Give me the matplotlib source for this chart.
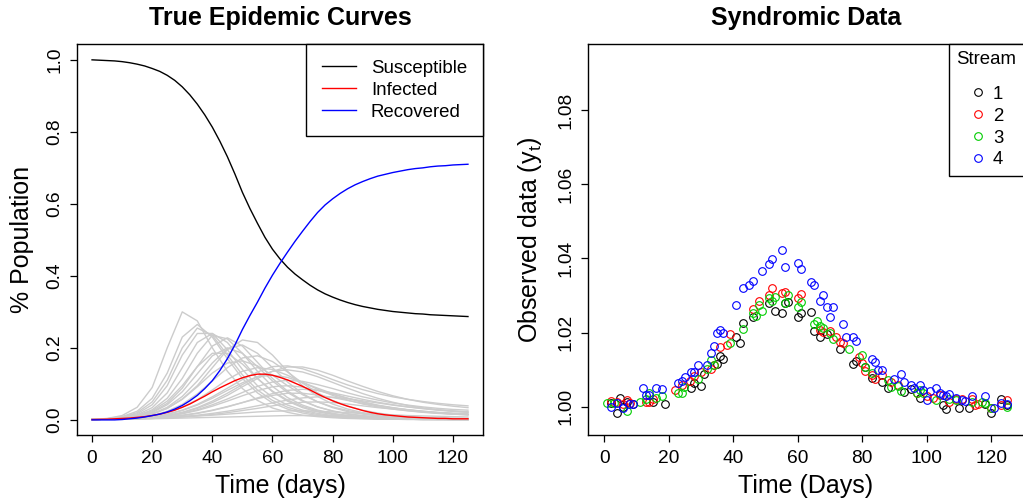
import matplotlib
matplotlib.use("Agg")
import matplotlib.pyplot as plt
import numpy as np

plt.rcParams['font.family'] = ['Liberation Sans', 'DejaVu Sans']
plt.rcParams['mathtext.fontset'] = 'custom'
plt.rcParams['mathtext.rm'] = 'Liberation Sans'

# ---- left panel: SIR curves (read every 2.5 days) ----
days_fine = [0, 2.5, 5, 7.5, 10, 12.5, 15, 17.5, 20, 22.5, 25, 27.5, 30, 32.5, 35, 37.5, 40, 42.5, 45, 47.5,
             50, 52.5, 55, 57.5, 60, 62.5, 65, 67.5, 70, 72.5, 75, 77.5, 80, 82.5, 85, 87.5, 90, 92.5, 95, 97.5,
             100, 102.5, 105, 107.5, 110, 112.5, 115, 117.5, 120, 122.5, 125]

susceptible = [1.0, 0.999, 0.998, 0.997, 0.995, 0.992, 0.988, 0.983, 0.976, 0.968, 0.957, 0.943, 0.925, 0.903,
               0.877, 0.847, 0.813, 0.774, 0.731, 0.683, 0.632, 0.587, 0.546, 0.507, 0.474, 0.447, 0.424, 0.405,
               0.389, 0.374, 0.361, 0.350, 0.341, 0.333, 0.326, 0.320, 0.315, 0.311, 0.307, 0.304, 0.301, 0.299,
               0.297, 0.295, 0.294, 0.292, 0.291, 0.290, 0.289, 0.288, 0.287]
infected = [0.001, 0.0015, 0.002, 0.003, 0.004, 0.005, 0.007, 0.009, 0.012, 0.016, 0.021, 0.027, 0.035, 0.044,
            0.055, 0.066, 0.078, 0.089, 0.099, 0.109, 0.117, 0.123, 0.127, 0.127, 0.124, 0.118, 0.111, 0.102,
            0.093, 0.083, 0.072, 0.062, 0.053, 0.045, 0.038, 0.032, 0.026, 0.021, 0.017, 0.014, 0.012, 0.010,
            0.008, 0.007, 0.006, 0.005, 0.004, 0.004, 0.003, 0.003, 0.003]
recovered = [0.0, 0.0, 0.0, 0.0, 0.001, 0.003, 0.005, 0.008, 0.012, 0.016, 0.022, 0.030, 0.040, 0.053, 0.068,
             0.087, 0.109, 0.137, 0.170, 0.208, 0.251, 0.290, 0.327, 0.366, 0.402, 0.435, 0.466, 0.496, 0.524,
             0.551, 0.576, 0.597, 0.614, 0.629, 0.642, 0.653, 0.662, 0.670, 0.677, 0.682, 0.687, 0.691, 0.695,
             0.698, 0.700, 0.703, 0.705, 0.706, 0.708, 0.709, 0.710]

# simulated infected curves (grey), read every 5 days
days = [0, 5, 10, 15, 20, 25, 30, 35, 40, 45, 50, 55, 60, 65, 70, 75, 80, 85, 90, 95, 100, 105, 110, 115, 120, 125]
sim_curves = [
    [0.001, 0.004, 0.012, 0.035, 0.09, 0.20, 0.30, 0.275, 0.20, 0.135, 0.087, 0.054, 0.033, 0.021, 0.013, 0.009, 0.006, 0.004, 0.003, 0.002, 0.002, 0.001, 0.001, 0.001, 0.001, 0.001],
    [0.001, 0.003, 0.009, 0.024, 0.06, 0.13, 0.23, 0.265, 0.23, 0.17, 0.115, 0.075, 0.047, 0.03, 0.019, 0.012, 0.008, 0.005, 0.004, 0.003, 0.002, 0.002, 0.001, 0.001, 0.001, 0.001],
    [0.001, 0.003, 0.008, 0.02, 0.05, 0.11, 0.20, 0.255, 0.235, 0.18, 0.125, 0.083, 0.054, 0.035, 0.023, 0.015, 0.01, 0.007, 0.005, 0.003, 0.002, 0.002, 0.001, 0.001, 0.001, 0.001],
    [0.001, 0.003, 0.007, 0.017, 0.042, 0.095, 0.18, 0.24, 0.24, 0.195, 0.14, 0.095, 0.063, 0.041, 0.027, 0.018, 0.012, 0.008, 0.005, 0.004, 0.003, 0.002, 0.001, 0.001, 0.001, 0.001],
    [0.001, 0.002, 0.006, 0.014, 0.034, 0.075, 0.145, 0.215, 0.24, 0.215, 0.165, 0.115, 0.078, 0.052, 0.034, 0.022, 0.015, 0.01, 0.007, 0.005, 0.003, 0.002, 0.002, 0.001, 0.001, 0.001],
    [0.001, 0.002, 0.005, 0.012, 0.028, 0.06, 0.115, 0.185, 0.235, 0.225, 0.185, 0.135, 0.093, 0.062, 0.041, 0.027, 0.018, 0.012, 0.008, 0.006, 0.004, 0.003, 0.002, 0.002, 0.001, 0.001],
    [0.001, 0.002, 0.004, 0.01, 0.022, 0.046, 0.088, 0.148, 0.205, 0.228, 0.205, 0.16, 0.115, 0.08, 0.054, 0.036, 0.024, 0.016, 0.011, 0.008, 0.005, 0.004, 0.003, 0.002, 0.002, 0.001],
    [0.001, 0.002, 0.004, 0.008, 0.016, 0.032, 0.058, 0.095, 0.145, 0.195, 0.222, 0.215, 0.18, 0.135, 0.095, 0.065, 0.044, 0.03, 0.02, 0.014, 0.01, 0.007, 0.005, 0.004, 0.003, 0.002],
    [0.001, 0.002, 0.004, 0.008, 0.017, 0.035, 0.065, 0.108, 0.158, 0.198, 0.208, 0.185, 0.145, 0.105, 0.073, 0.05, 0.034, 0.023, 0.016, 0.011, 0.008, 0.006, 0.004, 0.003, 0.002, 0.002],
    [0.001, 0.002, 0.004, 0.009, 0.02, 0.042, 0.078, 0.128, 0.178, 0.2, 0.185, 0.148, 0.108, 0.076, 0.052, 0.036, 0.025, 0.017, 0.012, 0.008, 0.006, 0.004, 0.003, 0.002, 0.002, 0.001],
    [0.001, 0.002, 0.005, 0.011, 0.025, 0.052, 0.095, 0.148, 0.185, 0.185, 0.155, 0.115, 0.08, 0.055, 0.037, 0.025, 0.017, 0.012, 0.008, 0.006, 0.004, 0.003, 0.002, 0.002, 0.001, 0.001],
    [0.001, 0.002, 0.003, 0.006, 0.012, 0.024, 0.043, 0.072, 0.108, 0.145, 0.172, 0.178, 0.162, 0.133, 0.102, 0.075, 0.054, 0.038, 0.027, 0.019, 0.013, 0.009, 0.007, 0.005, 0.004, 0.003],
    [0.001, 0.002, 0.004, 0.008, 0.016, 0.032, 0.057, 0.092, 0.13, 0.158, 0.164, 0.15, 0.124, 0.095, 0.07, 0.05, 0.036, 0.026, 0.018, 0.013, 0.009, 0.007, 0.005, 0.004, 0.003, 0.002],
    [0.001, 0.002, 0.003, 0.005, 0.009, 0.016, 0.027, 0.043, 0.064, 0.088, 0.112, 0.133, 0.148, 0.15, 0.142, 0.128, 0.112, 0.097, 0.084, 0.073, 0.064, 0.057, 0.051, 0.046, 0.042, 0.039],
    [0.001, 0.002, 0.003, 0.004, 0.007, 0.012, 0.02, 0.032, 0.048, 0.068, 0.092, 0.115, 0.135, 0.147, 0.147, 0.138, 0.124, 0.108, 0.093, 0.079, 0.067, 0.057, 0.049, 0.043, 0.038, 0.034],
    [0.001, 0.002, 0.003, 0.006, 0.011, 0.02, 0.035, 0.056, 0.083, 0.112, 0.135, 0.145, 0.14, 0.124, 0.104, 0.085, 0.068, 0.055, 0.044, 0.036, 0.03, 0.025, 0.021, 0.018, 0.016, 0.014],
    [0.001, 0.002, 0.003, 0.004, 0.007, 0.012, 0.021, 0.034, 0.052, 0.074, 0.098, 0.12, 0.135, 0.139, 0.133, 0.12, 0.104, 0.088, 0.073, 0.06, 0.049, 0.04, 0.033, 0.028, 0.024, 0.021],
    [0.001, 0.002, 0.003, 0.005, 0.009, 0.015, 0.026, 0.041, 0.06, 0.082, 0.103, 0.12, 0.124, 0.118, 0.104, 0.088, 0.073, 0.06, 0.049, 0.04, 0.033, 0.028, 0.024, 0.021, 0.019, 0.017],
    [0.001, 0.002, 0.003, 0.004, 0.007, 0.011, 0.018, 0.028, 0.042, 0.058, 0.076, 0.093, 0.105, 0.11, 0.107, 0.098, 0.087, 0.075, 0.064, 0.055, 0.047, 0.041, 0.036, 0.032, 0.029, 0.027],
    [0.001, 0.002, 0.003, 0.004, 0.007, 0.011, 0.017, 0.026, 0.038, 0.052, 0.067, 0.081, 0.092, 0.095, 0.091, 0.082, 0.071, 0.06, 0.05, 0.041, 0.034, 0.028, 0.023, 0.019, 0.016, 0.014],
    [0.001, 0.002, 0.002, 0.003, 0.005, 0.008, 0.012, 0.018, 0.026, 0.036, 0.048, 0.061, 0.073, 0.082, 0.085, 0.082, 0.075, 0.066, 0.057, 0.049, 0.042, 0.036, 0.031, 0.027, 0.024, 0.022],
    [0.001, 0.002, 0.003, 0.004, 0.006, 0.009, 0.013, 0.019, 0.027, 0.037, 0.048, 0.059, 0.068, 0.074, 0.074, 0.069, 0.062, 0.054, 0.046, 0.039, 0.033, 0.028, 0.024, 0.02, 0.017, 0.015],
    [0.001, 0.002, 0.002, 0.003, 0.004, 0.006, 0.009, 0.013, 0.018, 0.024, 0.031, 0.039, 0.047, 0.055, 0.061, 0.064, 0.063, 0.059, 0.053, 0.047, 0.041, 0.036, 0.032, 0.028, 0.025, 0.022],
    [0.001, 0.002, 0.002, 0.003, 0.004, 0.006, 0.008, 0.011, 0.015, 0.02, 0.026, 0.032, 0.039, 0.045, 0.049, 0.05, 0.048, 0.044, 0.039, 0.034, 0.03, 0.026, 0.022, 0.019, 0.017, 0.015],
    [0.001, 0.002, 0.003, 0.004, 0.005, 0.007, 0.009, 0.011, 0.013, 0.016, 0.019, 0.022, 0.024, 0.025, 0.025, 0.024, 0.022, 0.02, 0.018, 0.016, 0.014, 0.012, 0.011, 0.01, 0.009, 0.008],
    [0.001, 0.001, 0.002, 0.002, 0.003, 0.004, 0.005, 0.006, 0.007, 0.008, 0.009, 0.01, 0.011, 0.012, 0.012, 0.012, 0.011, 0.01, 0.009, 0.008, 0.007, 0.006, 0.006, 0.005, 0.005, 0.004],
]

# ---- right panel: syndromic data streams ----
s1_days = [2, 4, 5, 6, 7, 9, 15, 19, 27, 28, 30, 31, 35, 36, 37, 41, 42, 43, 46, 51, 53, 55, 56, 57, 60, 61,
           64, 65, 67, 69, 73, 77, 78, 81, 83, 86, 88, 93, 95, 98, 105, 106, 110, 113, 118, 120, 123, 125]
s1_vals = [1.0011, 0.9984, 1.0024, 1.0000, 1.0013, 1.0007, 1.0012, 1.0007, 1.0050, 1.0063, 1.0056, 1.0088,
           1.0115, 1.0137, 1.0128, 1.0189, 1.0173, 1.0227, 1.0241, 1.0281, 1.0259, 1.0252, 1.0279, 1.0283,
           1.0243, 1.0252, 1.0256, 1.0204, 1.0187, 1.0195, 1.0157, 1.0115, 1.0124, 1.0108, 1.0079, 1.0067,
           1.0052, 1.0040, 1.0047, 1.0024, 1.0006, 0.9993, 0.9998, 0.9996, 1.0007, 0.9984, 1.0020, 1.0004]

s2_days = [2, 4, 6, 7, 8, 13, 14, 15, 22, 24, 26.5, 28, 30, 33, 34, 36, 38, 39, 46, 48, 51, 52, 55, 56, 60, 61,
           67, 68, 70, 72, 73, 74, 79, 80, 81, 83, 84, 86, 89, 91, 97, 100, 102, 104, 107, 109, 111, 114, 115,
           116, 120, 123, 125]
s2_vals = [1.0016, 1.0012, 1.0007, 1.0018, 1.0011, 1.0013, 1.0012, 1.0020, 1.0045, 1.0058, 1.0069, 1.0083,
           1.0094, 1.0103, 1.0112, 1.0160, 1.0166, 1.0195, 1.0264, 1.0286, 1.0301, 1.0319, 1.0308, 1.0310,
           1.0294, 1.0303, 1.0207, 1.0202, 1.0204, 1.0189, 1.0175, 1.0173, 1.0135, 1.0117, 1.0097, 1.0085,
           1.0074, 1.0085, 1.0067, 1.0058, 1.0036, 1.0029, 1.0025, 1.0031, 1.0013, 1.0022, 1.0021, 1.0022,
           1.0004, 1.0007, 0.9996, 1.0004, 1.0018]

s3_days = [1, 3, 7, 11, 13, 14, 16, 18, 23, 24, 24.7, 29, 32, 33, 34, 39, 43, 46, 47, 48, 49, 51, 52, 53, 56,
           57, 60, 61, 65, 66, 67, 68, 70, 71, 76, 80, 81, 83, 88, 89, 91, 92, 97, 98, 99, 103, 107, 109, 114,
           117, 118, 120, 125]
s3_vals = [1.0009, 1.0009, 0.9989, 1.0013, 1.0022, 1.0038, 1.0025, 1.0029, 1.0036, 1.0038, 1.0054, 1.0076,
           1.0103, 1.0126, 1.0112, 1.0173, 1.0209, 1.0252, 1.0245, 1.0274, 1.0258, 1.0292, 1.0286, 1.0297,
           1.0281, 1.0301, 1.0268, 1.0283, 1.0223, 1.0232, 1.0218, 1.0213, 1.0200, 1.0182, 1.0156, 1.0139,
           1.0108, 1.0090, 1.0072, 1.0054, 1.0056, 1.0043, 1.0038, 1.0045, 1.0038, 1.0018, 1.0020, 1.0018,
           1.0013, 1.0013, 1.0009, 0.9998, 1.0000]

s4_days = [2, 4, 6, 7.6, 9, 12, 13, 14, 16, 18, 23, 24, 25, 27, 28, 29, 32, 33, 34, 35, 36, 37, 41, 43, 45, 46,
           49, 51, 52, 55, 56, 60, 61, 64, 65, 67, 68, 69, 70, 71, 74, 75, 77, 78, 83, 84, 85, 86, 90, 92, 93,
           95, 96, 98, 99, 100, 101, 103, 104, 105, 106, 107, 109, 111, 112, 114, 118, 121, 123, 125]
s4_vals = [1.0000, 1.0011, 0.9998, 1.0007, 1.0007, 1.0050, 1.0031, 1.0033, 1.0052, 1.0047, 1.0063, 1.0069,
           1.0081, 1.0094, 1.0094, 1.0114, 1.0114, 1.0146, 1.0164, 1.0198, 1.0207, 1.0198, 1.0274, 1.0319,
           1.0328, 1.0339, 1.0367, 1.0384, 1.0398, 1.0423, 1.0376, 1.0387, 1.0372, 1.0337, 1.0328, 1.0286,
           1.0301, 1.0270, 1.0243, 1.0270, 1.0223, 1.0189, 1.0189, 1.0177, 1.0130, 1.0121, 1.0099, 1.0099,
           1.0076, 1.0088, 1.0067, 1.0058, 1.0050, 1.0058, 1.0045, 1.0018, 1.0043, 1.0050, 1.0038, 1.0031,
           1.0029, 1.0034, 1.0024, 1.0018, 1.0016, 1.0029, 1.0029, 0.9998, 1.0009, 1.0007]

stream_days = [s1_days, s2_days, s3_days, s4_days]
stream_vals = [s1_vals, s2_vals, s3_vals, s4_vals]
stream_names = ['1', '2', '3', '4']
stream_colors = ['black', '#FF0000', '#00CD00', '#0000FF']

fig = plt.figure(figsize=(10.23, 5.04), dpi=100)
W, H = 1023.0, 504.0

def style_axes(ax):
    for s in ax.spines.values():
        s.set_linewidth(1.0)
    ax.tick_params(direction='out', length=5, width=0.9, labelsize=13.8, pad=6)
    ax.tick_params(axis='y', labelrotation=90, pad=5)
    for lab in ax.get_yticklabels():
        lab.set_va('center')

# left
ax1 = fig.add_axes([77 / W, 1 - 435 / H, 406 / W, 391 / H])
for c in sim_curves:
    ax1.plot(days, c, color='#CCCCCC', lw=1.0)
ax1.plot(days_fine, susceptible, color='black', lw=1.0, label='Susceptible')
ax1.plot(days_fine, infected, color='#FF0000', lw=1.0, label='Infected')
ax1.plot(days_fine, recovered, color='#0000FF', lw=1.0, label='Recovered')
ax1.set_xlim(-5, 130)
ax1.set_ylim(-0.042, 1.044)
ax1.set_xticks([0, 20, 40, 60, 80, 100, 120])
ax1.set_yticks([0.0, 0.2, 0.4, 0.6, 0.8, 1.0])
ax1.set_yticklabels(['0.0', '0.2', '0.4', '0.6', '0.8', '1.0'])
style_axes(ax1)
ax1.set_title('True Epidemic Curves', fontsize=18, fontweight='bold', pad=14)
ax1.set_xlabel('Time (days)', fontsize=18)
ax1.set_ylabel('% Population', fontsize=18)
ax1.xaxis.set_label_coords(0.5, -0.1)
ax1.yaxis.set_label_coords(-0.105, 0.5)
leg1 = ax1.legend(loc='upper right', borderaxespad=0, fancybox=False, edgecolor='black', framealpha=1,
                  fontsize=13.4, handlelength=1.85, handletextpad=0.8, borderpad=0.85, labelspacing=0.26)
leg1.get_frame().set_linewidth(1.0)

# right
ax2 = fig.add_axes([588 / W, 1 - 435 / H, 435.5 / W, 391 / H])
for d, v, name, col in zip(stream_days, stream_vals, stream_names, stream_colors):
    ax2.plot(d, v, 'o', mfc='none', mec=col, ms=5.5, mew=0.8, label=name)
ax2.set_xlim(-5, 130)
ax2.set_ylim(0.99240, 1.0978)
ax2.set_xticks([0, 20, 40, 60, 80, 100, 120])
ax2.set_yticks([1.00, 1.02, 1.04, 1.06, 1.08])
ax2.set_yticklabels(['1.00', '1.02', '1.04', '1.06', '1.08'])
style_axes(ax2)
ax2.set_title('Syndromic Data', fontsize=18, fontweight='bold', pad=14)
ax2.set_xlabel('Time (Days)', fontsize=18)
ax2.set_ylabel(r'Observed data ($\mathregular{y_t}$)', fontsize=18)
ax2.xaxis.set_label_coords(0.5, -0.1)
ax2.yaxis.set_label_coords(-0.1, 0.5)
leg2 = ax2.legend(loc='upper right', borderaxespad=0, fancybox=False, edgecolor='black', framealpha=1,
                  fontsize=13.4, title='Stream', title_fontsize=13.4, handlelength=1.0,
                  handletextpad=0.3, borderpad=0.4, labelspacing=0.26)
leg2.get_frame().set_linewidth(1.0)
leg2._legend_box.sep = 12.5

fig.savefig('out.png', dpi=100)
